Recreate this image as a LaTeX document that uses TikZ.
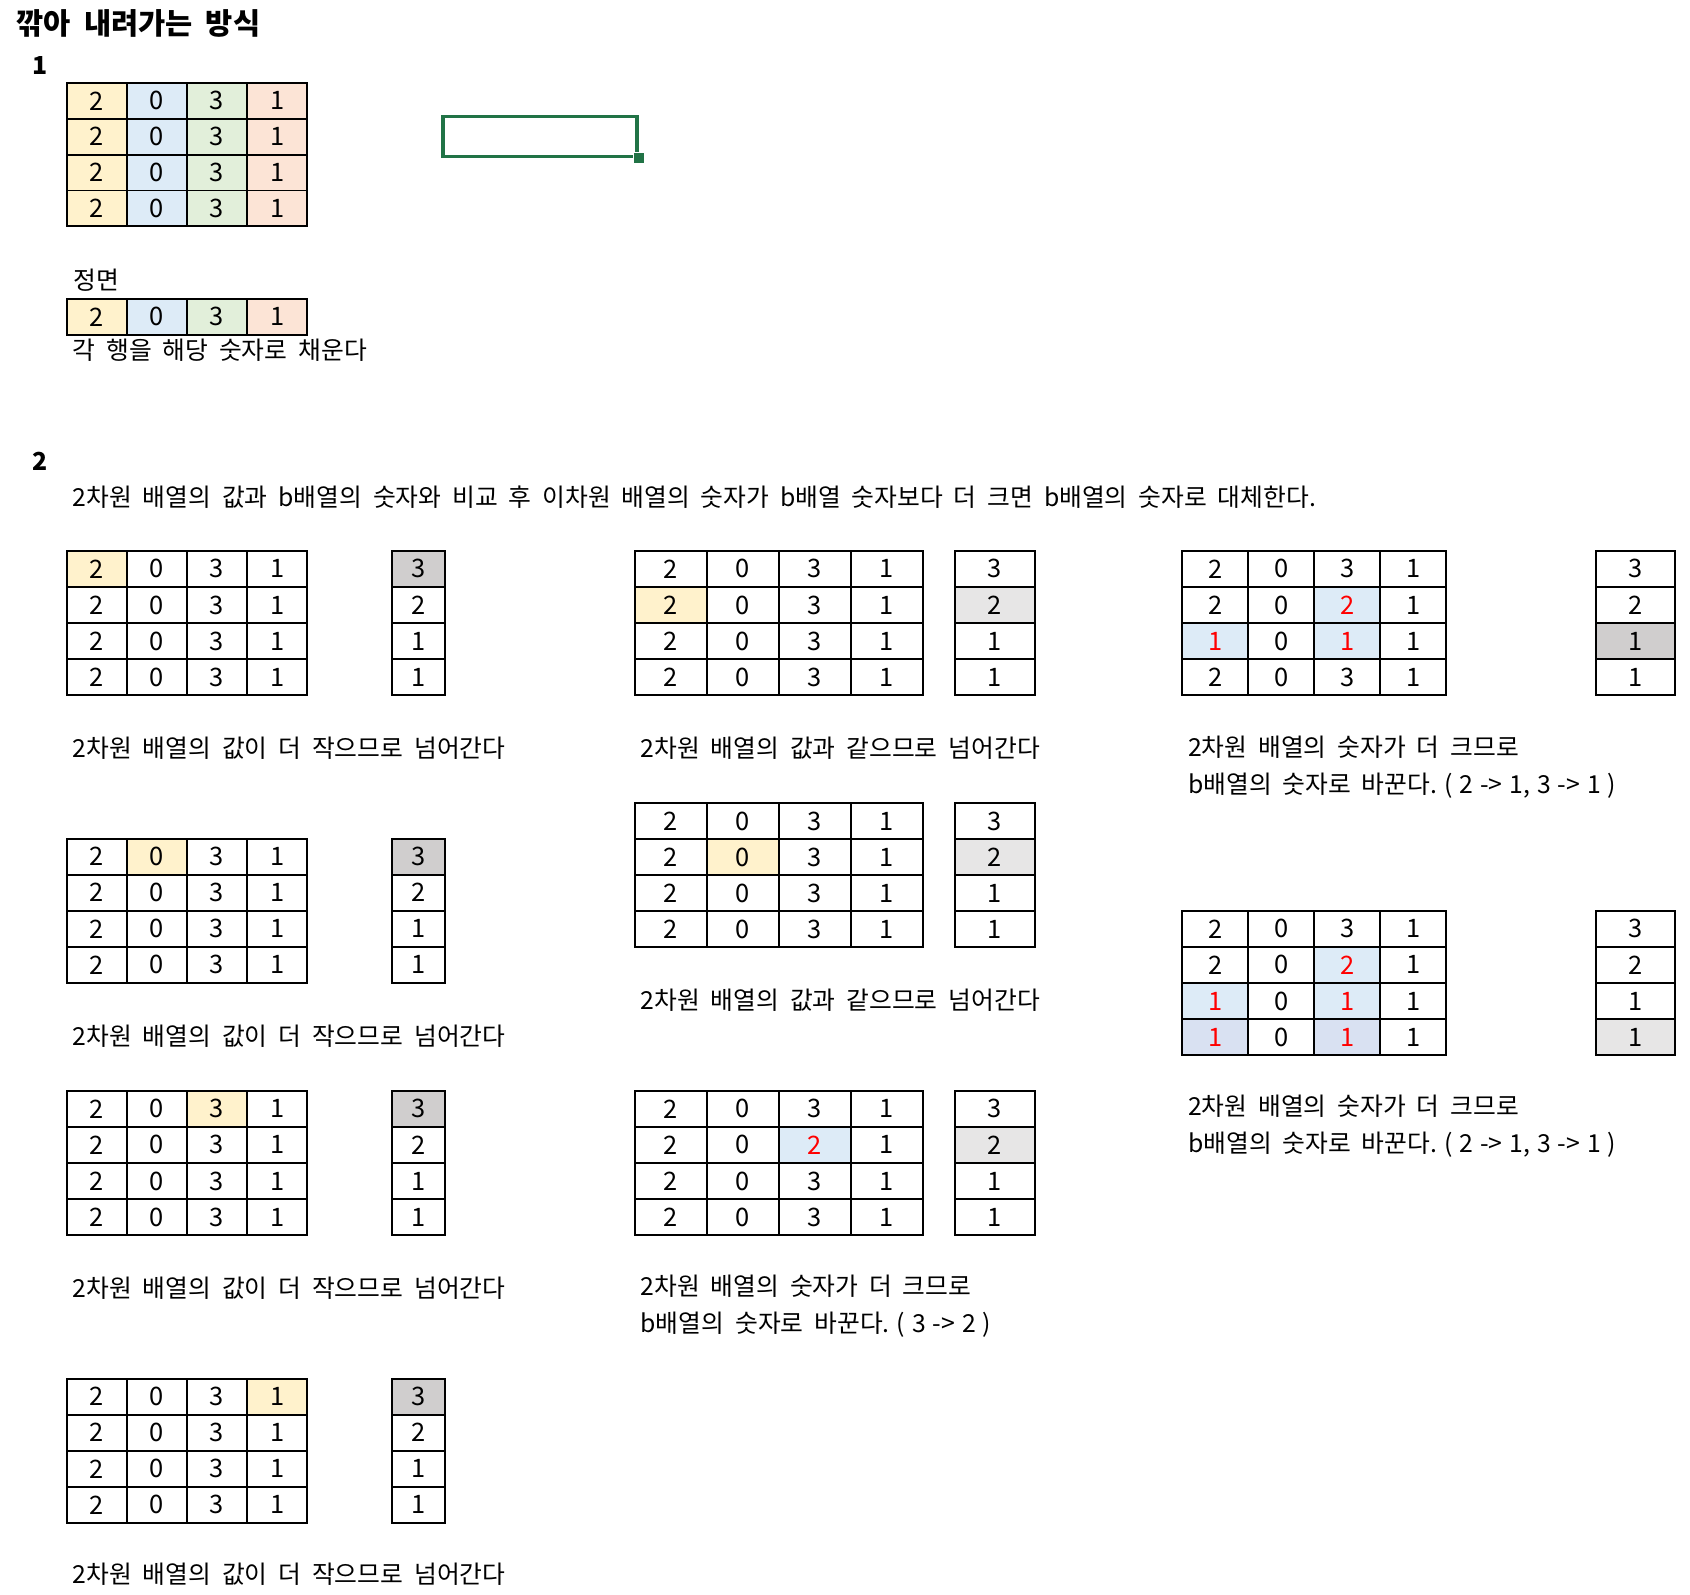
\documentclass[tikz,border=0pt]{standalone}
\usepackage{fontspec}
\setmainfont{Noto Sans CJK KR}[WordSpace=1.95]
\usetikzlibrary{positioning}
\definecolor{yel}{HTML}{FFF2CC}
\definecolor{blu}{HTML}{DDEBF7}
\definecolor{grn}{HTML}{E2EFDA}
\definecolor{sal}{HTML}{FCE4D6}
\definecolor{lav}{HTML}{D9E1F2}
\definecolor{dgray}{HTML}{D0CECE}
\definecolor{lgray}{HTML}{E7E6E6}
\definecolor{xlgreen}{HTML}{217346}
\newcommand{\rd}[1]{\textcolor{red}{#1}}
\newcommand{\nsp}{\hspace{0.28em}}
\tikzset{
  cell/.style={draw=black,line width=0.9pt,inner sep=0pt,font=\fontsize{11.8}{14}\selectfont},
  txt/.style={anchor=west,inner sep=0pt,align=left,font=\fontsize{11.5}{17}\selectfont},
  hdr/.style={anchor=west,inner sep=0pt,font=\fontsize{#1}{16}\selectfont\bfseries},
  hdr/.default=11.5,
}
% 4x4 (or 1x4) table: name, left, top, cell width, cell height, rows
\newcommand{\mattab}[6]{%
  \foreach \row [count=\r] in {#6}{%
    \foreach \v [count=\c] in \row {%
      \node[cell,minimum width=#4*0.5pt,minimum height=#5*0.5pt,hc-\c/.try,hl-\r-\c/.try]
        (#1-\r-\c) at ({#2+(\c-0.5)*#4},{#3+(\r-0.5)*#5}) {\v};
    }}}
% b array: name, left, top, width, cell height
\newcommand{\btab}[5]{%
  \foreach \v [count=\r] in {3,2,1,1}{%
    \node[cell,minimum width=#4*0.5pt,minimum height=#5*0.5pt,hb-\r/.try]
      (#1-\r) at ({#2+0.5*#4},{#3+(\r-0.5)*#5}) {\v};
  }}
\begin{document}
\begin{tikzpicture}[x=0.5pt,y=-0.5pt]
  \useasboundingbox (0,0) rectangle (1568,1479);
  \node[hdr=13.7] (title) at (15,22) {깎아 내려가는 방식};
  \node[hdr] (n1) at (30,61) {1};
  \begin{scope}[hc-1/.style={fill=yel},hc-2/.style={fill=blu},hc-3/.style={fill=grn},hc-4/.style={fill=sal}]
    \mattab{t1}{62}{77}{55.75}{33.25}{{2,0,3,1},{2,0,3,1},{2,0,3,1},{2,0,3,1}}
    \mattab{fr}{62}{277}{55.75}{34}{{2,0,3,1}}
  \end{scope}
  \node[txt] (front) at (68,260) {정면};
  \node[txt] (fill-note) at (67,325) {각 행을 해당 숫자로 채운다};
  \node[draw=xlgreen,line width=1.5pt,minimum width=180*0.5pt,minimum height=37*0.5pt,inner sep=0pt] (sel) at (501,126.5) {};
  \node[fill=xlgreen,draw=white,line width=0.4pt,minimum size=5pt,inner sep=0pt] (sel-h) at (sel.south east) {};

  \node[hdr] (n2) at (30,428) {2};
  \node[txt] (intro) at (67,461) {2차원 배열의 값과 b배열의 숫자와 비교 후 이차원 배열의 숫자가 b배열 숫자보다 더 크면 b배열의 숫자로 대체한다.};

  % left column
  \begin{scope}[hl-1-1/.style={fill=yel},hb-1/.style={fill=dgray}]
    \mattab{a1}{62}{511}{55.75}{33.5}{{2,0,3,1},{2,0,3,1},{2,0,3,1},{2,0,3,1}}
    \btab{ba1}{364}{511}{49}{33.5}
  \end{scope}
  \node[txt] (cap-a1) at (67,694) {2차원 배열의 값이 더 작으므로 넘어간다};
  \begin{scope}[hl-1-2/.style={fill=yel},hb-1/.style={fill=dgray}]
    \mattab{a2}{62}{778}{55.75}{33.5}{{2,0,3,1},{2,0,3,1},{2,0,3,1},{2,0,3,1}}
    \btab{ba2}{364}{778}{49}{33.5}
  \end{scope}
  \node[txt] (cap-a2) at (67,961) {2차원 배열의 값이 더 작으므로 넘어간다};
  \begin{scope}[hl-1-3/.style={fill=yel},hb-1/.style={fill=dgray}]
    \mattab{a3}{62}{1012}{55.75}{33.5}{{2,0,3,1},{2,0,3,1},{2,0,3,1},{2,0,3,1}}
    \btab{ba3}{364}{1012}{49}{33.5}
  \end{scope}
  \node[txt] (cap-a3) at (67,1195) {2차원 배열의 값이 더 작으므로 넘어간다};
  \begin{scope}[hl-1-4/.style={fill=yel},hb-1/.style={fill=dgray}]
    \mattab{a4}{62}{1279}{55.75}{33.5}{{2,0,3,1},{2,0,3,1},{2,0,3,1},{2,0,3,1}}
    \btab{ba4}{364}{1279}{49}{33.5}
  \end{scope}
  \node[txt] (cap-a4) at (67,1461) {2차원 배열의 값이 더 작으므로 넘어간다};

  % middle column
  \begin{scope}[hl-2-1/.style={fill=yel},hb-2/.style={fill=lgray}]
    \mattab{m1}{589}{511}{66.75}{33.5}{{2,0,3,1},{2,0,3,1},{2,0,3,1},{2,0,3,1}}
    \btab{bm1}{886}{511}{74}{33.5}
  \end{scope}
  \node[txt] (cap-m1) at (594,694) {2차원 배열의 값과 같으므로 넘어간다};
  \begin{scope}[hl-2-2/.style={fill=yel},hb-2/.style={fill=lgray}]
    \mattab{m2}{589}{745}{66.75}{33.5}{{2,0,3,1},{2,0,3,1},{2,0,3,1},{2,0,3,1}}
    \btab{bm2}{886}{745}{74}{33.5}
  \end{scope}
  \node[txt] (cap-m2) at (594,928) {2차원 배열의 값과 같으므로 넘어간다};
  \begin{scope}[hl-2-3/.style={fill=blu},hb-2/.style={fill=lgray}]
    \mattab{m3}{589}{1012}{66.75}{33.5}{{2,0,3,1},{2,0,\rd{2},1},{2,0,3,1},{2,0,3,1}}
    \btab{bm3}{886}{1012}{74}{33.5}
  \end{scope}
  \node[txt] (cap-m3) at (594,1212) {2차원 배열의 숫자가 더 크므로\\b배열의 숫자로 바꾼다.\nsp(\nsp3\nsp->\nsp2\nsp)};

  % right column
  \begin{scope}[hl-2-3/.style={fill=blu},hl-3-1/.style={fill=blu},hl-3-3/.style={fill=blu},hb-3/.style={fill=dgray}]
    \mattab{r1}{1097}{511}{61.25}{33.5}{{2,0,3,1},{2,0,\rd{2},1},{\rd{1},0,\rd{1},1},{2,0,3,1}}
    \btab{br1}{1481}{511}{73}{33.5}
  \end{scope}
  \node[txt] (cap-r1) at (1102,711.5) {2차원 배열의 숫자가 더 크므로\\b배열의 숫자로 바꾼다.\nsp(\nsp2\nsp->\nsp1,\nsp3\nsp->\nsp1\nsp)};
  \begin{scope}[hl-2-3/.style={fill=blu},hl-3-1/.style={fill=blu},hl-3-3/.style={fill=blu},
                hl-4-1/.style={fill=lav},hl-4-3/.style={fill=lav},hb-4/.style={fill=lgray}]
    \mattab{r2}{1097}{845}{61.25}{33.5}{{2,0,3,1},{2,0,\rd{2},1},{\rd{1},0,\rd{1},1},{\rd{1},0,\rd{1},1}}
    \btab{br2}{1481}{845}{73}{33.5}
  \end{scope}
  \node[txt] (cap-r2) at (1102,1045) {2차원 배열의 숫자가 더 크므로\\b배열의 숫자로 바꾼다.\nsp(\nsp2\nsp->\nsp1,\nsp3\nsp->\nsp1\nsp)};
\end{tikzpicture}
\end{document}
